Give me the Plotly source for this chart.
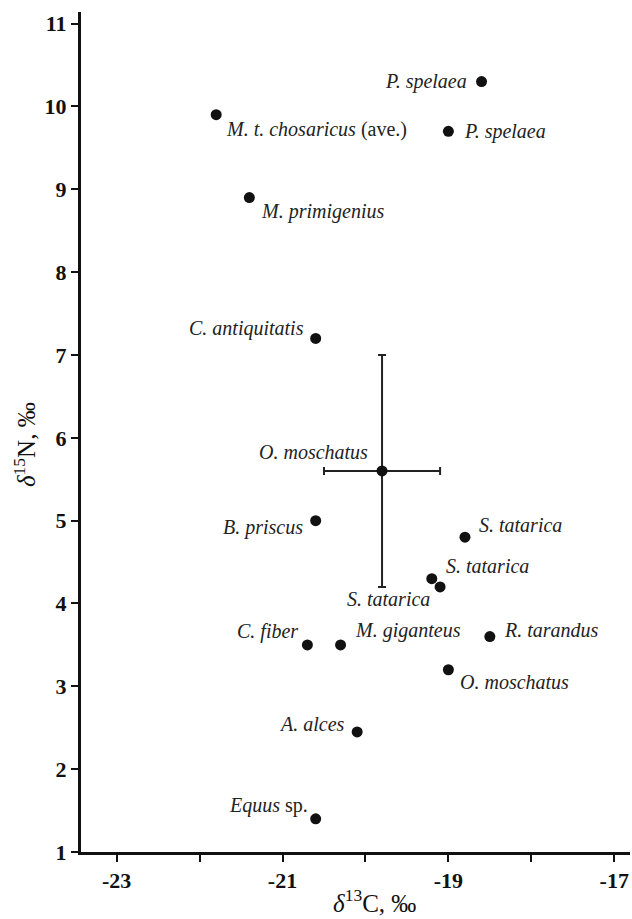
import plotly.graph_objects as go

# ---- data ----
species = ["P. spelaea", "M. t. chosaricus", "P. spelaea", "M. primigenius",
           "C. antiquitatis", "B. priscus", "S. tatarica", "S. tatarica",
           "S. tatarica", "C. fiber", "M. giganteus", "R. tarandus",
           "O. moschatus", "A. alces", "Equus"]
suffix = ["", " (ave.)", "", "", "", "", "", "", "", "", "", "", "", "", " sp."]
d13C = [-18.6, -21.8, -19.0, -21.4, -20.6, -20.6, -18.8, -19.2, -19.1,
        -20.7, -20.3, -18.5, -19.0, -20.1, -20.6]
d15N = [10.3, 9.9, 9.7, 8.9, 7.2, 5.0, 4.8, 4.3, 4.2,
        3.5, 3.5, 3.6, 3.2, 2.45, 1.4]

mean_name = ["O. moschatus"]
mean_d13C = [-19.8]
mean_d15N = [5.6]
sd_d13C = [0.7]
sd_d15N = [1.4]

x_tickvals = [-23, -21, -19, -17]
x_ticktext = ["-23", "-21", "-19", "-17"]
x_minor_tickvals = [-22, -20, -18]
y_tickvals = [1, 2, 3, 4, 5, 6, 7, 8, 9, 10, 11]
y_ticktext = ["1", "2", "3", "4", "5", "6", "7", "8", "9", "10", "11"]

x_title = "<i>δ</i><sup>13</sup>C, ‰"
y_title = "<i>δ</i><sup>15</sup>N, ‰"

# ---- label placement (style only) ----
label_style = [
    ("right", -13, 0), ("left", 8, -15), ("left", 14, 0), ("left", 10, -14),
    ("right", -10, 10), ("right", -11, -7), ("left", 12, 12), ("left", 12, 13),
    ("right", -8, -12), ("right", -7, 13), ("left", 12, 14), ("left", 12, 7),
    ("left", 10, -12), ("right", -10, 8), ("right", -6, 13),
]
mean_label_style = [("right", -12, 19)]

SERIF = "Liberation Serif, Times New Roman, serif"
INK = "#111111"
LABEL_SIZE = 20

fig = go.Figure()

fig.add_trace(go.Scatter(
    x=mean_d13C, y=mean_d15N, mode="markers",
    marker=dict(size=11, color=INK),
    error_x=dict(type="data", array=sd_d13C, color="#222222", thickness=2, width=4),
    error_y=dict(type="data", array=sd_d15N, color="#222222", thickness=2, width=4),
    showlegend=False, hoverinfo="skip",
))

fig.add_trace(go.Scatter(
    x=d13C, y=d15N, mode="markers",
    marker=dict(size=11, color=INK),
    showlegend=False,
))

annotations = []
for name, suf, x, y, (anc, dx, dy) in zip(species, suffix, d13C, d15N, label_style):
    annotations.append(dict(
        x=x, y=y, xref="x", yref="y", text=f"<i>{name}</i>{suf}",
        showarrow=False, xanchor=anc, yanchor="middle", xshift=dx, yshift=dy,
        font=dict(family=SERIF, size=LABEL_SIZE, color="#222222"),
    ))
for name, x, y, (anc, dx, dy) in zip(mean_name, mean_d13C, mean_d15N, mean_label_style):
    annotations.append(dict(
        x=x, y=y, xref="x", yref="y", text=f"<i>{name}</i>",
        showarrow=False, xanchor=anc, yanchor="middle", xshift=dx, yshift=dy,
        font=dict(family=SERIF, size=LABEL_SIZE, color="#222222"),
    ))

# axis titles as annotations for precise placement
annotations.append(dict(
    x=0.534, y=0, xref="paper", yref="paper", text=x_title, showarrow=False,
    xanchor="center", yanchor="middle", yshift=-49,
    font=dict(family=SERIF, size=25, color=INK),
))
annotations.append(dict(
    x=0, y=0.4845, xref="paper", yref="paper", text=y_title, showarrow=False,
    xanchor="center", yanchor="middle", xshift=-56, textangle=-90,
    font=dict(family=SERIF, size=25, color=INK),
))

fig.update_layout(
    width=632, height=919,
    margin=dict(l=81, r=2, t=12, b=67),
    paper_bgcolor="white", plot_bgcolor="white",
    annotations=annotations,
    font=dict(family=SERIF, color=INK),
)

fig.update_xaxes(
    range=[-23.43, -16.81],
    tickmode="array", tickvals=x_tickvals, ticktext=x_ticktext,
    ticks="outside", ticklen=7, tickwidth=2, tickcolor=INK,
    minor=dict(tickmode="array", tickvals=x_minor_tickvals, ticks="outside",
               ticklen=7, tickwidth=2, tickcolor=INK, showgrid=False),
    showline=True, linewidth=3, linecolor=INK, showgrid=False, zeroline=False,
    tickfont=dict(family=SERIF, size=22, color=INK, weight="bold"),
)
fig.update_yaxes(
    range=[1, 11.14],
    tickmode="array", tickvals=y_tickvals, ticktext=y_ticktext,
    ticks="outside", ticklen=7, tickwidth=2, tickcolor=INK,
    showline=True, linewidth=3, linecolor=INK, showgrid=False, zeroline=False,
    tickfont=dict(family=SERIF, size=22, color=INK, weight="bold"),
)

# remove the default page margin so the 632x919 figure fills the window exactly
fig.write_html(
    "out.html",
    config={"displayModeBar": False},
    post_script="document.body.style.margin='0';document.body.style.overflow='hidden';",
)
